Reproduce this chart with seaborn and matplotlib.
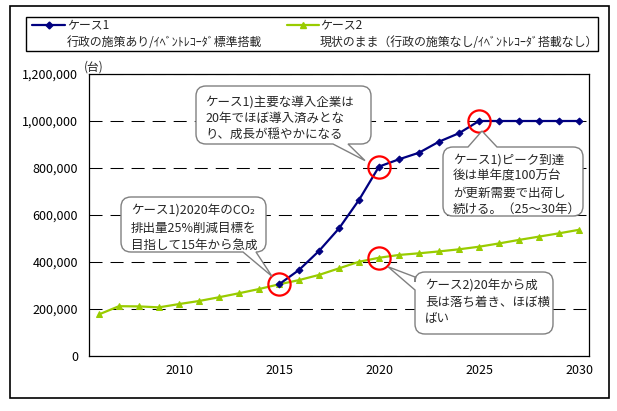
import numpy as np
import pandas as pd
import matplotlib
matplotlib.use("Agg")
import matplotlib.pyplot as plt
import seaborn as sns
from matplotlib.path import Path
from matplotlib.patches import PathPatch, Rectangle
from matplotlib.ticker import FuncFormatter

# ---------------- data ----------------
years = [2006, 2007, 2008, 2009, 2010, 2011, 2012, 2013, 2014, 2015,
         2016, 2017, 2018, 2019, 2020, 2021, 2022, 2023, 2024, 2025,
         2026, 2027, 2028, 2029, 2030]
case1 = [np.nan, np.nan, np.nan, np.nan, np.nan, np.nan, np.nan, np.nan, np.nan,
         305000, 366000, 447000, 543000, 664000, 806000, 837000, 865000, 912000,
         948000, 1000000, 1000000, 1000000, 1000000, 1000000, 1000000]
case2 = [177000, 212000, 211000, 207000, 221000, 234000, 250000, 267000, 285000,
         305000, 323000, 345000, 373000, 401000, 418000, 430000, 437000, 445000,
         454000, 465000, 479000, 494000, 508000, 522000, 537000]
label_years = [2010, 2015, 2020, 2025, 2030]
y_ticks = [0, 200000, 400000, 600000, 800000, 1000000, 1200000]
unit_label = "(台)"
legend_titles = ["ケース1", "ケース2"]
legend_subs = ["行政の施策あり/ｲﾍﾞﾝﾄﾚｺｰﾀﾞ標準搭載",
               "現状のまま（行政の施策なし/ｲﾍﾞﾝﾄﾚｺｰﾀﾞ搭載なし）"]
note_a = ["ケース1)主要な導入企業は", "20年でほぼ導入済みとな", "り、成長が穏やかになる"]
note_b = ["ケース1)ピーク到達", "後は単年度100万台", "が更新需要で出荷し", "続ける。（25～30年）"]
note_c = ["ケース1)2020年のCO₂", "排出量25%削減目標を", "目指して15年から急成"]
note_d = ["ケース2)20年から成", "長は落ち着き、ほぼ横", "ばい"]

NAVY = "#000080"
GREEN = "#99CC00"
GREY = "#808080"

sns.set_style("white")
plt.rcParams["font.family"] = ["Noto Sans CJK JP", "DejaVu Sans"]

W, H = 617, 411
fig = plt.figure(figsize=(W / 100, H / 100), dpi=100)
fig.patch.set_facecolor("white")
ax = fig.add_axes([89 / W, (H - 356) / H, 500 / W, 282 / H])

df = pd.DataFrame({"year": years, "case1": case1, "case2": case2})
sns.lineplot(data=df, x="year", y="case2", color=GREEN, marker="^", markersize=5,
             markeredgecolor=GREEN, linewidth=1.6, ax=ax, zorder=3)
sns.lineplot(data=df.dropna(subset=["case1"]), x="year", y="case1", color=NAVY,
             marker="D", markersize=3.5, markeredgecolor=NAVY, linewidth=1.6,
             ax=ax, zorder=4)

ax.set_xlim(years[0] - 0.5, years[-1] + 0.5)
ax.set_ylim(y_ticks[0], y_ticks[-1])
ax.set_xticks(label_years)
ax.set_xticklabels([str(y) for y in label_years])
ax.set_xticks([y + 0.5 for y in years[:-1]], minor=True)
ax.tick_params(axis="x", which="major", length=0, pad=6, labelsize=9, colors="black")
ax.tick_params(axis="x", which="minor", direction="in", length=3, width=0.8, color="black")
ax.set_yticks(y_ticks)
ax.yaxis.set_major_formatter(FuncFormatter(lambda v, p: f"{int(v):,}"))
ax.tick_params(axis="y", length=0, pad=8, labelsize=9, colors="black")
ax.grid(axis="y", color="black", linewidth=0.75, linestyle=(0, (12.5, 7.7)))
ax.grid(axis="x", visible=False)
ax.set_xlabel("")
ax.set_ylabel("")
for s in ax.spines.values():
    s.set_color("black")
    s.set_linewidth(0.9)

# red circles at key points
def val(series, yr):
    return series[years.index(yr)]

for series, yr in [(case1, 2015), (case1, 2020), (case1, 2025), (case2, 2020)]:
    ax.plot([yr], [val(series, yr)], marker="o", markersize=16, markerfacecolor="none",
            markeredgecolor="red", markeredgewidth=1.6, linestyle="none", zorder=6)

# ---------------- overlay in pixel coordinates ----------------
ov = fig.add_axes([0, 0, 1, 1], zorder=5)
ov.set_xlim(0, W)
ov.set_ylim(H, 0)
ov.axis("off")
ov.patch.set_alpha(0)

def px(xd, yd):
    dx, dy = ax.transData.transform((xd, yd))
    return dx, H - dy

# outer frame
ov.add_patch(Rectangle((10, 6), 599, 392, fill=False, edgecolor="black", linewidth=1.2))

# legend
ov.add_patch(Rectangle((26, 17), 572, 34, fill=False, edgecolor="black", linewidth=1.0))
ov.plot([32, 65], [25, 25], color=NAVY, lw=1.6)
ov.plot([48.5], [25], marker="D", ms=3.5, color=NAVY)
ov.text(67, 25, legend_titles[0], va="center", ha="left", fontsize=8.6)
ov.text(67, 42, legend_subs[0], va="center", ha="left", fontsize=8.6)
ov.plot([287, 319], [25, 25], color=GREEN, lw=1.6)
ov.plot([303], [25], marker="^", ms=5, color=GREEN)
ov.text(320, 25, legend_titles[1], va="center", ha="left", fontsize=8.6)
ov.text(320, 42, legend_subs[1], va="center", ha="left", fontsize=8.6)

ov.text(84, 67, unit_label, va="center", ha="left", fontsize=8.5)

def callout(x0, y0, x1, y1, edge, b1, b2, tip, lines, tx, ty0, dy, r=10):
    M, L, C = Path.MOVETO, Path.LINETO, Path.CURVE3
    v = [(x0 + r, y0)]
    c = [M]
    if edge == "top":
        v += [(b1, y0), tip, (b2, y0)]; c += [L, L, L]
    v += [(x1 - r, y0), (x1, y0), (x1, y0 + r)]; c += [L, C, C]
    v += [(x1, y1 - r), (x1, y1), (x1 - r, y1)]; c += [L, C, C]
    if edge == "bottom":
        v += [(b2, y1), tip, (b1, y1)]; c += [L, L, L]
    v += [(x0 + r, y1), (x0, y1), (x0, y1 - r)]; c += [L, C, C]
    if edge == "left":
        v += [(x0, b2), tip, (x0, b1)]; c += [L, L, L]
    v += [(x0, y0 + r), (x0, y0), (x0 + r, y0)]; c += [L, C, C]
    v.append((0, 0)); c.append(Path.CLOSEPOLY)
    ov.add_patch(PathPatch(Path(v, c), facecolor="white", edgecolor=GREY, linewidth=1.0))
    for i, t in enumerate(lines):
        ov.text(tx, ty0 + i * dy, t, va="center", ha="left", fontsize=9)

cx, cy = px(2020, val(case1, 2020))
callout(196, 86, 371, 144, "bottom", 333, 348, (cx - 14, cy - 6), note_a, 205, 102, 16)
cx, cy = px(2025, val(case1, 2025))
callout(443, 147, 583, 216, "top", 468, 497, (cx + 3, cy + 10), note_b, 453, 160, 16.5)
cx, cy = px(2015, val(case1, 2015))
callout(121, 197, 266, 252, "bottom", 243, 256, (cx - 7, cy - 8), note_c, 131, 211, 17)
cx, cy = px(2020, val(case2, 2020))
callout(415, 272, 553, 334, "left", 277, 290, (cx + 9, cy + 9), note_d, 425, 286, 16.5)

fig.savefig("out.png", dpi=100)
